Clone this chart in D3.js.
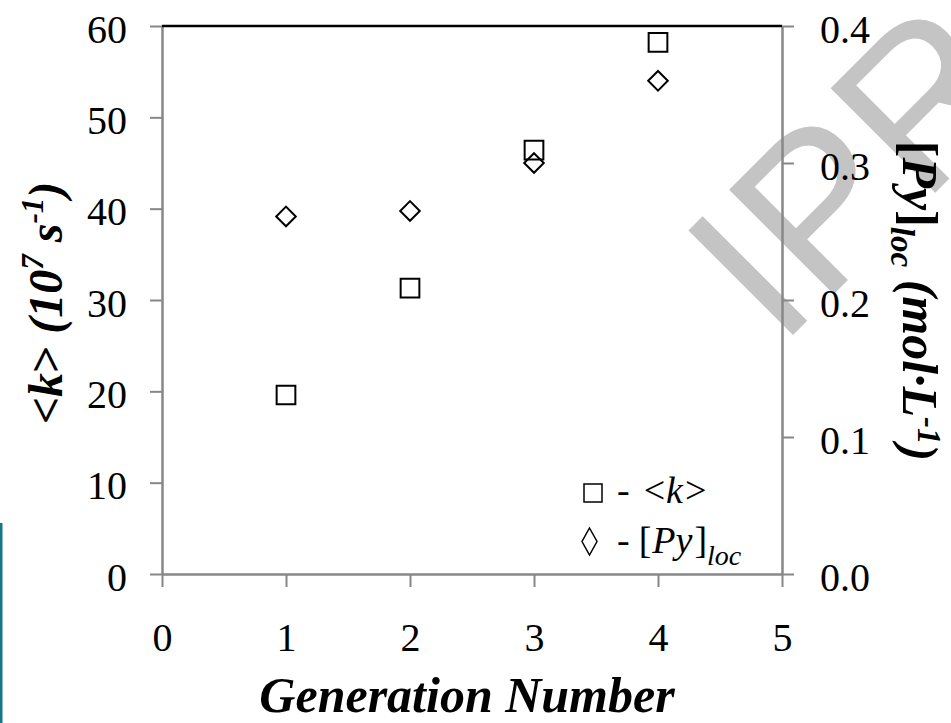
<!DOCTYPE html>
<html>
<head>
<meta charset="utf-8">
<script src="https://cdn.jsdelivr.net/npm/d3@7"></script>
<style>
  html, body { margin: 0; padding: 0; background: #fff; }
  svg { display: block; }
</style>
</head>
<body>
<svg id="chart" width="951" height="723"></svg>
<script>
// ---- data ----
const generations = [1, 2, 3, 4];
const kValues = [19.6, 31.3, 46.4, 58.2];          // <k> (10^7 s^-1), left axis
const pyValues = [0.261, 0.265, 0.300, 0.360];     // [Py]loc (mol·L-1), right axis
const xTicks = [0, 1, 2, 3, 4, 5];
const yLeftTicks = [0, 10, 20, 30, 40, 50, 60];
const yRightTicks = [0, 0.1, 0.2, 0.3, 0.4];

(function () {
const svg = d3.select("#chart");
const serif = "Liberation Serif";
const axisGray = "#878787";

const pLeft = 162, pRight = 782, pTop = 26, pBottom = 574;
const x = d3.scaleLinear().domain([0, 5]).range([pLeft, pRight]);
const yL = d3.scaleLinear().domain([0, 60]).range([pBottom, pTop]);
const yR = d3.scaleLinear().domain([0, 0.4]).range([pBottom, pTop]);

// ---- watermark (behind) ----
svg.append("text")
  .attr("transform", "translate(779,349) rotate(-45)")
  .attr("font-family", "Liberation Sans")
  .attr("font-size", 215)
  .attr("fill", "#c4c4c4")
  .text("IPR");

// left-edge blue bar
svg.append("rect").attr("x", 0).attr("y", 523).attr("width", 2.5).attr("height", 200).attr("fill", "#17778a");

// ---- axes ----
function styleAxis(g) {
  g.attr("font-family", serif);
  g.select(".domain").attr("stroke", axisGray).attr("stroke-width", 2.5);
  g.selectAll(".tick line").attr("stroke", axisGray).attr("stroke-width", 2);
  g.selectAll(".tick text").attr("font-family", serif).attr("font-size", 40).attr("fill", "#000");
}

const gx = svg.append("g").attr("transform", `translate(0,${pBottom})`)
  .call(d3.axisBottom(x).tickValues(xTicks).tickFormat(d3.format("d")).tickSize(13).tickSizeOuter(0).tickPadding(36));
styleAxis(gx);

const gyl = svg.append("g").attr("transform", `translate(${pLeft},0)`)
  .call(d3.axisLeft(yL).tickValues(yLeftTicks).tickFormat(d3.format("d")).tickSize(12).tickSizeOuter(0).tickPadding(23));
styleAxis(gyl);
gyl.selectAll(".tick text").attr("dy", "0.4em");

const gyr = svg.append("g").attr("transform", `translate(${pRight},0)`)
  .call(d3.axisRight(yR).tickValues(yRightTicks).tickFormat(d3.format(".1f")).tickSize(12).tickSizeOuter(0).tickPadding(26));
styleAxis(gyr);
gyr.selectAll(".tick text").attr("dy", "0.4em");

// top border (black)
svg.append("line")
  .attr("x1", x(0)).attr("x2", x(5)).attr("y1", yL(60)).attr("y2", yL(60))
  .attr("stroke", "#000").attr("stroke-width", 2.5);

// ---- markers ----
const diamondType = {
  draw(ctx, size) {
    const h = Math.sqrt(size / 2);
    ctx.moveTo(0, -h); ctx.lineTo(h, 0); ctx.lineTo(0, h); ctx.lineTo(-h, 0); ctx.closePath();
  }
};
const squareSym = d3.symbol().type(d3.symbolSquare).size(350);
const diamondSym = d3.symbol().type(diamondType).size(192);

svg.append("g").selectAll("path").data(generations).join("path")
  .attr("d", squareSym)
  .attr("transform", (d, i) => `translate(${x(d)},${yL(kValues[i])})`)
  .attr("fill", "none").attr("stroke", "#000").attr("stroke-width", 2);

svg.append("g").selectAll("path").data(generations).join("path")
  .attr("d", diamondSym)
  .attr("transform", (d, i) => `translate(${x(d)},${yR(pyValues[i])})`)
  .attr("fill", "none").attr("stroke", "#000").attr("stroke-width", 2);

// ---- axis titles ----
svg.append("text")
  .attr("x", 467).attr("y", 712)
  .attr("text-anchor", "middle")
  .attr("font-family", serif).attr("font-size", 50)
  .attr("font-weight", "bold").attr("font-style", "italic")
  .text("Generation Number");

const ylt = svg.append("text")
  .attr("transform", "translate(62,303) rotate(-90)")
  .attr("text-anchor", "middle")
  .attr("font-family", serif).attr("font-size", 48)
  .attr("font-weight", "bold");
ylt.append("tspan").text("<");
ylt.append("tspan").attr("font-style", "italic").text("k");
ylt.append("tspan").text("> ");
ylt.append("tspan").attr("font-style", "italic").text("(10");
ylt.append("tspan").attr("font-style", "italic").attr("font-size", 31).attr("dy", -19).text("7");
ylt.append("tspan").attr("font-style", "italic").attr("dy", 19).text(" s");
ylt.append("tspan").attr("font-style", "italic").attr("font-size", 31).attr("dy", -19).text("-1");
ylt.append("tspan").attr("font-style", "italic").attr("dy", 19).text(")");

const yrt = svg.append("text")
  .attr("transform", "translate(903,301) rotate(90)")
  .attr("text-anchor", "middle")
  .attr("font-family", serif).attr("font-size", 50)
  .attr("font-weight", "bold").attr("font-style", "italic");
yrt.append("tspan").attr("font-style", "normal").text("[");
yrt.append("tspan").text("Py");
yrt.append("tspan").attr("font-style", "normal").text("]");
yrt.append("tspan").attr("font-size", 33).attr("dy", 12).text("loc");
yrt.append("tspan").attr("dy", -12).text(" (mol·L");
yrt.append("tspan").attr("font-size", 33).attr("dy", -15).text("-1");
yrt.append("tspan").attr("dy", 15).text(")");

// ---- legend ----
const legend = svg.append("g");
legend.append("rect").attr("x", 584).attr("y", 484).attr("width", 18).attr("height", 18)
  .attr("fill", "none").attr("stroke", "#000").attr("stroke-width", 1.5);
legend.append("path")
  .attr("d", "M589.5,528 L597,541.5 L589.5,555 L582,541.5 Z")
  .attr("fill", "none").attr("stroke", "#000").attr("stroke-width", 1.5);

const l1 = legend.append("text").attr("x", 617).attr("y", 503)
  .attr("font-family", serif).attr("font-size", 38);
l1.append("tspan").text("-");
l1.append("tspan").attr("dx", 14).text("<");
l1.append("tspan").attr("font-style", "italic").attr("dx", 1).text("k");
l1.append("tspan").attr("dx", 2).text(">");

const l2 = legend.append("text").attr("x", 617).attr("y", 553)
  .attr("font-family", serif).attr("font-size", 38);
l2.append("tspan").text("-");
l2.append("tspan").attr("dx", 9).text("[");
l2.append("tspan").attr("font-style", "italic").attr("dx", 1).text("Py");
l2.append("tspan").attr("dx", 2).text("]");
l2.append("tspan").attr("font-style", "italic").attr("font-size", 28).attr("dy", 12).text("loc");
})();
</script>
</body>
</html>
